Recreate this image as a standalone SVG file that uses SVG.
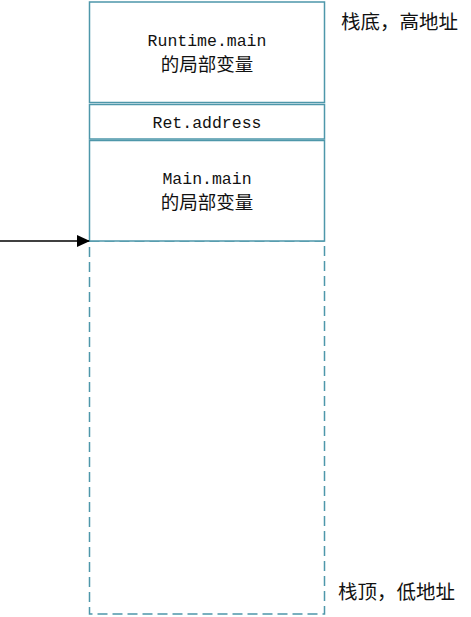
<svg xmlns="http://www.w3.org/2000/svg" width="471" height="617" viewBox="0 0 471 617">
<defs>
<style>
.box{fill:#ffffff;stroke:#4e97aa;stroke-width:1.5}
.dash{fill:none;stroke:#4e97aa;stroke-width:1.5;stroke-dasharray:10 5}
.mono{font-family:"Liberation Mono","Noto Sans CJK SC",monospace;font-size:16.5px;fill:#111;text-anchor:middle}
.cjk{font-family:"Noto Sans CJK SC",sans-serif;font-size:18.5px;fill:#111;text-anchor:middle}
.lbl{font-family:"Noto Sans CJK SC",sans-serif;font-size:19.5px;fill:#111}
</style>
<marker id="arr" markerWidth="13" markerHeight="12" refX="12" refY="6" orient="auto" markerUnits="userSpaceOnUse">
<path d="M0,0 L13,6 L0,12 z" fill="#000"/>
</marker>
</defs>
<g id="stack-free">
<rect class="dash" x="89.5" y="241" width="235" height="373"/>
</g>
<g id="runtime-main">
<rect class="box" x="89.5" y="2" width="235" height="100.5"/>
<text class="mono" x="207" y="46">Runtime.main</text>
<text class="cjk" x="207" y="71">的局部变量</text>
</g>
<g id="ret-address">
<rect class="box" x="89.5" y="104.5" width="235" height="34.5"/>
<text class="mono" x="207" y="128">Ret.address</text>
</g>
<g id="main-main">
<rect class="box" x="89.5" y="140.5" width="235" height="100.5"/>
<text class="mono" x="207" y="184">Main.main</text>
<text class="cjk" x="207" y="209">的局部变量</text>
</g>
<g id="label-bottom">
<text class="lbl" x="341" y="29">栈底，高地址</text>
</g>
<g id="label-top">
<text class="lbl" x="338" y="599">栈顶，低地址</text>
</g>
<g id="connectors">
<line x1="0" y1="241" x2="89" y2="241" stroke="#000" stroke-width="1.5" marker-end="url(#arr)"/>
</g>
</svg>
